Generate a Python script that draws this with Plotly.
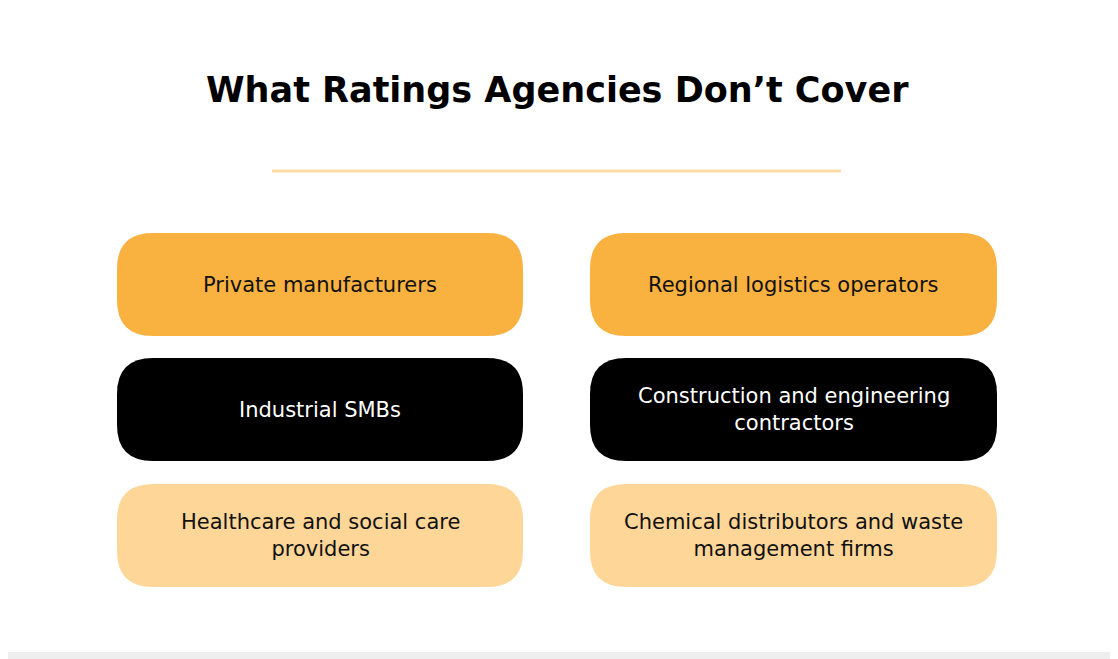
import plotly.graph_objects as go

TITLE = "What Ratings Agencies Don’t Cover"
LEFT_LABELS = ["Private manufacturers", "Industrial SMBs", "Healthcare and social care<br>providers"]
RIGHT_LABELS = ["Regional logistics operators", "Construction and engineering<br>contractors",
                "Chemical distributors and waste<br>management firms"]
ROW_FILLS = ["#F9B13F", "#000000", "#FED798"]
ROW_TEXT = ["#111111", "#FFFFFF", "#111111"]

W, H = 1118, 659
OFF = 8  # page body margin


def rounded_rect(x0, y0, x1, y1, r):
    return (f"M {x0 + r},{y0} L {x1 - r},{y0} Q {x1},{y0} {x1},{y0 + r} "
            f"L {x1},{y1 - r} Q {x1},{y1} {x1 - r},{y1} L {x0 + r},{y1} "
            f"Q {x0},{y1} {x0},{y1 - r} L {x0},{y0 + r} Q {x0},{y0} {x0 + r},{y0} Z")


fig = go.Figure()
shapes = []
annotations = []

col_x = [(117, 523), (590, 997)]
row_y = [(233, 336), (358, 461), (484, 587)]

for col, labels in enumerate([LEFT_LABELS, RIGHT_LABELS]):
    x0, x1 = col_x[col]
    for row, label in enumerate(labels):
        y0, y1 = row_y[row]
        shapes.append(dict(type="path", path=rounded_rect(x0, y0, x1, y1, 36),
                           fillcolor=ROW_FILLS[row], line=dict(width=0), layer="below"))
        annotations.append(dict(x=(x0 + x1) / 2, y=(y0 + y1) / 2, text=label, showarrow=False,
                                font=dict(family="DejaVu Sans", size=21, color=ROW_TEXT[row])))

# divider line under title
shapes.append(dict(type="line", x0=272, x1=841, y0=171, y1=171,
                   line=dict(color="#FBDDA5", width=3)))
# faint band at the bottom
shapes.append(dict(type="rect", x0=0, x1=W + OFF, y0=652, y1=H + OFF,
                   fillcolor="#EEEEEE", line=dict(width=0)))

annotations.append(dict(x=557, y=90, text=f"<b>{TITLE}</b>", showarrow=False,
                        font=dict(family="DejaVu Sans", size=35, color="#000000")))

fig.update_layout(
    width=W, height=H,
    margin=dict(l=0, r=0, t=0, b=0),
    paper_bgcolor="white", plot_bgcolor="white",
    xaxis=dict(range=[OFF, W + OFF], visible=False, fixedrange=True),
    yaxis=dict(range=[H + OFF, OFF], visible=False, fixedrange=True),
    shapes=shapes, annotations=annotations, showlegend=False,
)

fig.write_html("out.html")
